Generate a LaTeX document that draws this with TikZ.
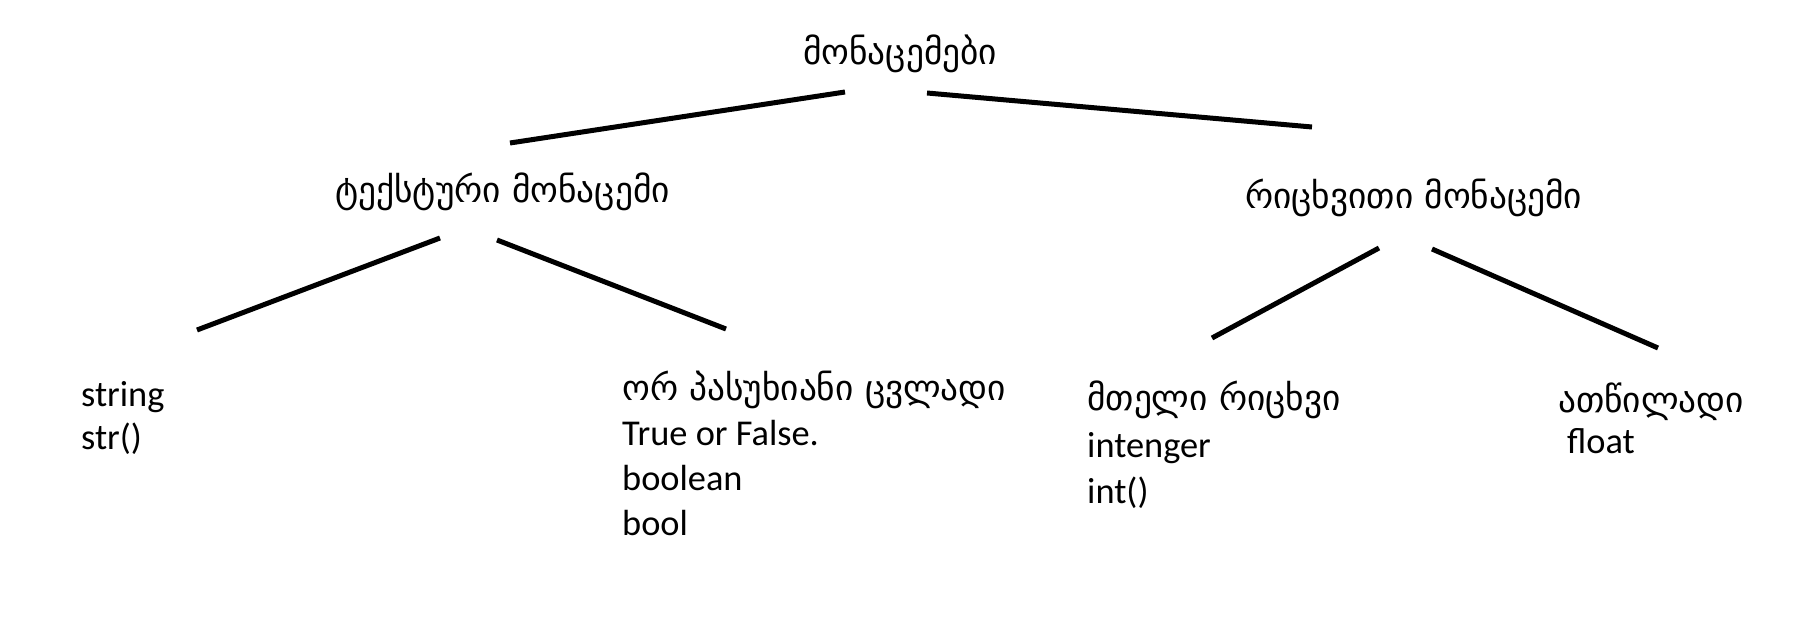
\documentclass[tikz,border=0pt]{standalone}
\usepackage{fontspec}
\setmainfont{Carlito}
\newfontfamily\geo{DejaVu Sans}
\begin{document}
\begin{tikzpicture}[x=1bp,y=-1bp,
  conn/.style={line width=5bp},
  lbl/.style={anchor=base west, inner sep=0pt, font=\fontsize{36.5}{45}\selectfont},
  glbl/.style={anchor=base west, inner sep=0pt, font=\geo\fontsize{35.5}{45}\selectfont}]
\useasboundingbox (0,0) rectangle (1798,618);
% texts
\node[glbl] (root) at (803,65) {მონაცემები};
\node[glbl] (text) at (335,203) {ტექსტური მონაცემი};
\node[glbl] (num) at (1245,209) {რიცხვითი მონაცემი};
\node[lbl] (s1) at (81,406) {string};
\node[lbl] (s2) at (81,449) {str()};
\node[glbl] (b0) at (622,400) {ორ პასუხიანი ცვლადი};
\node[lbl] (b1) at (622,445) {True or False.};
\node[lbl] (b2) at (622,490) {boolean};
\node[lbl] (b3) at (622,535) {bool};
\node[glbl] (i0) at (1087,410) {მთელი რიცხვი};
\node[lbl] (i1) at (1087,457) {intenger};
\node[lbl] (i2) at (1087,503) {int()};
\node[glbl] (f0) at (1558,412) {ათწილადი};
\node[lbl] (f1) at (1567,453) {float};
% connector ends
\coordinate (r1) at (845,92);
\coordinate (r2) at (927,93);
\coordinate (t1) at (510,143);
\coordinate (n1) at (1312,127);
\coordinate (ta) at (440,238);
\coordinate (tb) at (497,240);
\coordinate (sa) at (197,330);
\coordinate (ba) at (726,329);
\coordinate (na) at (1379,248);
\coordinate (nb) at (1432,249);
\coordinate (ia) at (1212,338);
\coordinate (fa) at (1658,348);
\draw[conn] (r1) -- (t1);
\draw[conn] (r2) -- (n1);
\draw[conn] (ta) -- (sa);
\draw[conn] (tb) -- (ba);
\draw[conn] (na) -- (ia);
\draw[conn] (nb) -- (fa);
\end{tikzpicture}
\end{document}
